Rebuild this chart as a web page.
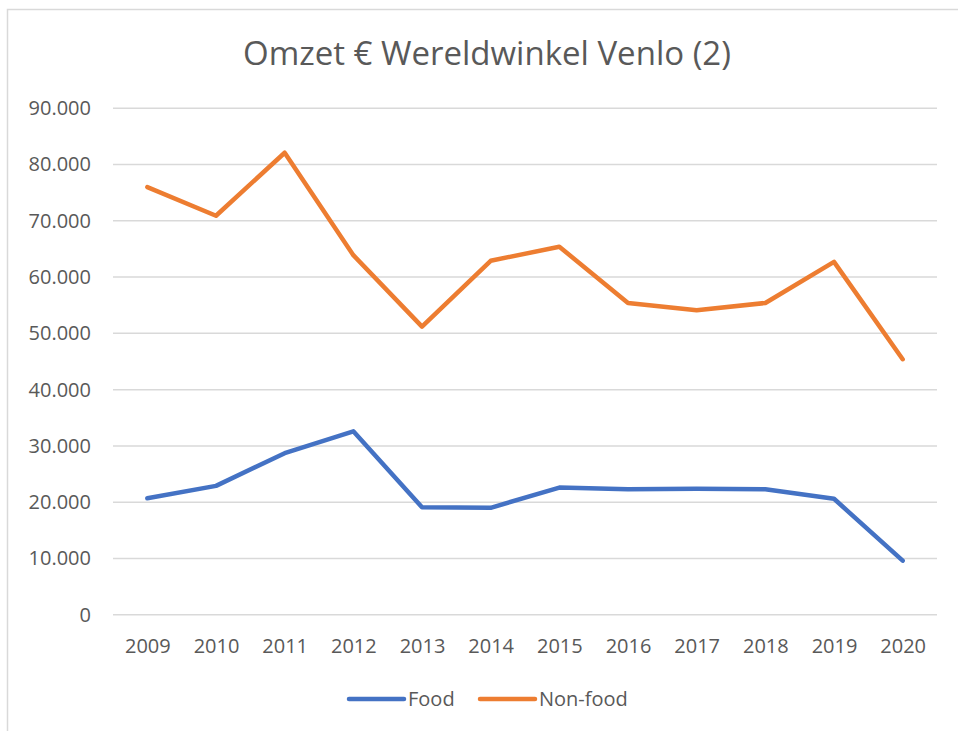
<!DOCTYPE html>
<html>
<head>
<meta charset="utf-8">
<script src="https://cdn.jsdelivr.net/npm/d3@7"></script>
<style>
  body { margin: 0; background: #fff; }
  text { font-family: "Open Sans", sans-serif; fill: #595959; }
</style>
</head>
<body>
<div id="chart"></div>
<script>
// Chart data
var years = ["2009", "2010", "2011", "2012", "2013", "2014", "2015", "2016", "2017", "2018", "2019", "2020"];
var food = [20700, 22900, 28700, 32600, 19100, 19000, 22600, 22300, 22400, 22300, 20600, 9600];
var nonFood = [76000, 70900, 82100, 63900, 51200, 62900, 65400, 55400, 54100, 55400, 62700, 45400];
var yTicks = [0, 10000, 20000, 30000, 40000, 50000, 60000, 70000, 80000, 90000];
var seriesNames = ["Food", "Non-food"];
var seriesColors = ["#4472C4", "#ED7D31"];

var svgWidth = 958;
var svgHeight = 731;
var margin = { top: 108.3, bottom: 116.3, left: 113, right: 21 };
var chartWidth = svgWidth - margin.left - margin.right;
var chartHeight = svgHeight - margin.top - margin.bottom;

var svg = d3
  .select("#chart")
  .append("svg")
  .attr("width", svgWidth)
  .attr("height", svgHeight);

// outer chart border (only top and left are visible in the frame)
svg
  .append("rect")
  .attr("x", 7.5)
  .attr("y", 9.5)
  .attr("width", 1000)
  .attr("height", 1000)
  .attr("fill", "none")
  .attr("stroke", "#D9D9D9")
  .attr("stroke-width", 1.5);

svg
  .append("text")
  .attr("x", 487)
  .attr("y", 65)
  .attr("text-anchor", "middle")
  .style("font-size", "33px")
  .text("Omzet € Wereldwinkel Venlo (2)");

var chartGroup = svg
  .append("g")
  .attr("transform", `translate(${margin.left}, ${margin.top})`);

var xScale = d3
  .scalePoint()
  .domain(years)
  .range([0, chartWidth])
  .padding(0.5);

var yScale = d3
  .scaleLinear()
  .domain([0, 90000])
  .range([chartHeight, 0]);

// gridlines
chartGroup
  .append("g")
  .selectAll("line")
  .data(yTicks)
  .enter()
  .append("line")
  .attr("x1", 0)
  .attr("x2", chartWidth)
  .attr("y1", d => yScale(d))
  .attr("y2", d => yScale(d))
  .attr("stroke", "#D9D9D9")
  .attr("stroke-width", 1.5);

var fmt = d3.formatLocale({ decimal: ",", thousands: ".", grouping: [3], currency: ["€", ""] }).format(",");

var leftAxis = d3
  .axisLeft(yScale)
  .tickValues(yTicks)
  .tickFormat(d => fmt(d))
  .tickSize(0)
  .tickPadding(22);

var yAxis = chartGroup.append("g").call(leftAxis);
yAxis.select(".domain").remove();
yAxis.selectAll("text")
  .attr("fill", "#595959")
  .style("font-family", "'Open Sans', sans-serif")
  .style("font-size", "20px");

var bottomAxis = d3
  .axisBottom(xScale)
  .tickSize(0)
  .tickPadding(24);

var xAxis = chartGroup
  .append("g")
  .attr("transform", `translate(0,${chartHeight})`)
  .call(bottomAxis);
xAxis.select(".domain").remove();
xAxis.selectAll("text")
  .attr("fill", "#595959")
  .style("font-family", "'Open Sans', sans-serif")
  .style("font-size", "20px");

var line = d3
  .line()
  .x((d, i) => xScale(years[i]))
  .y(d => yScale(d));

[food, nonFood].forEach(function(values, i) {
  chartGroup
    .append("path")
    .datum(values)
    .attr("d", line)
    .attr("fill", "none")
    .attr("stroke", seriesColors[i])
    .attr("stroke-width", 4.5)
    .attr("stroke-linejoin", "round")
    .attr("stroke-linecap", "round");
});

// legend
var legendItems = [
  { name: seriesNames[0], color: seriesColors[0], x1: 349, x2: 404, tx: 408 },
  { name: seriesNames[1], color: seriesColors[1], x1: 480, x2: 535, tx: 539 }
];
var legend = svg.append("g");
legendItems.forEach(function(item) {
  legend
    .append("line")
    .attr("x1", item.x1)
    .attr("x2", item.x2)
    .attr("y1", 699)
    .attr("y2", 699)
    .attr("stroke", item.color)
    .attr("stroke-width", 4.5)
    .attr("stroke-linecap", "round");
  legend
    .append("text")
    .attr("x", item.tx)
    .attr("y", 706)
    .style("font-size", "20px")
    .text(item.name);
});
</script>
</body>
</html>
